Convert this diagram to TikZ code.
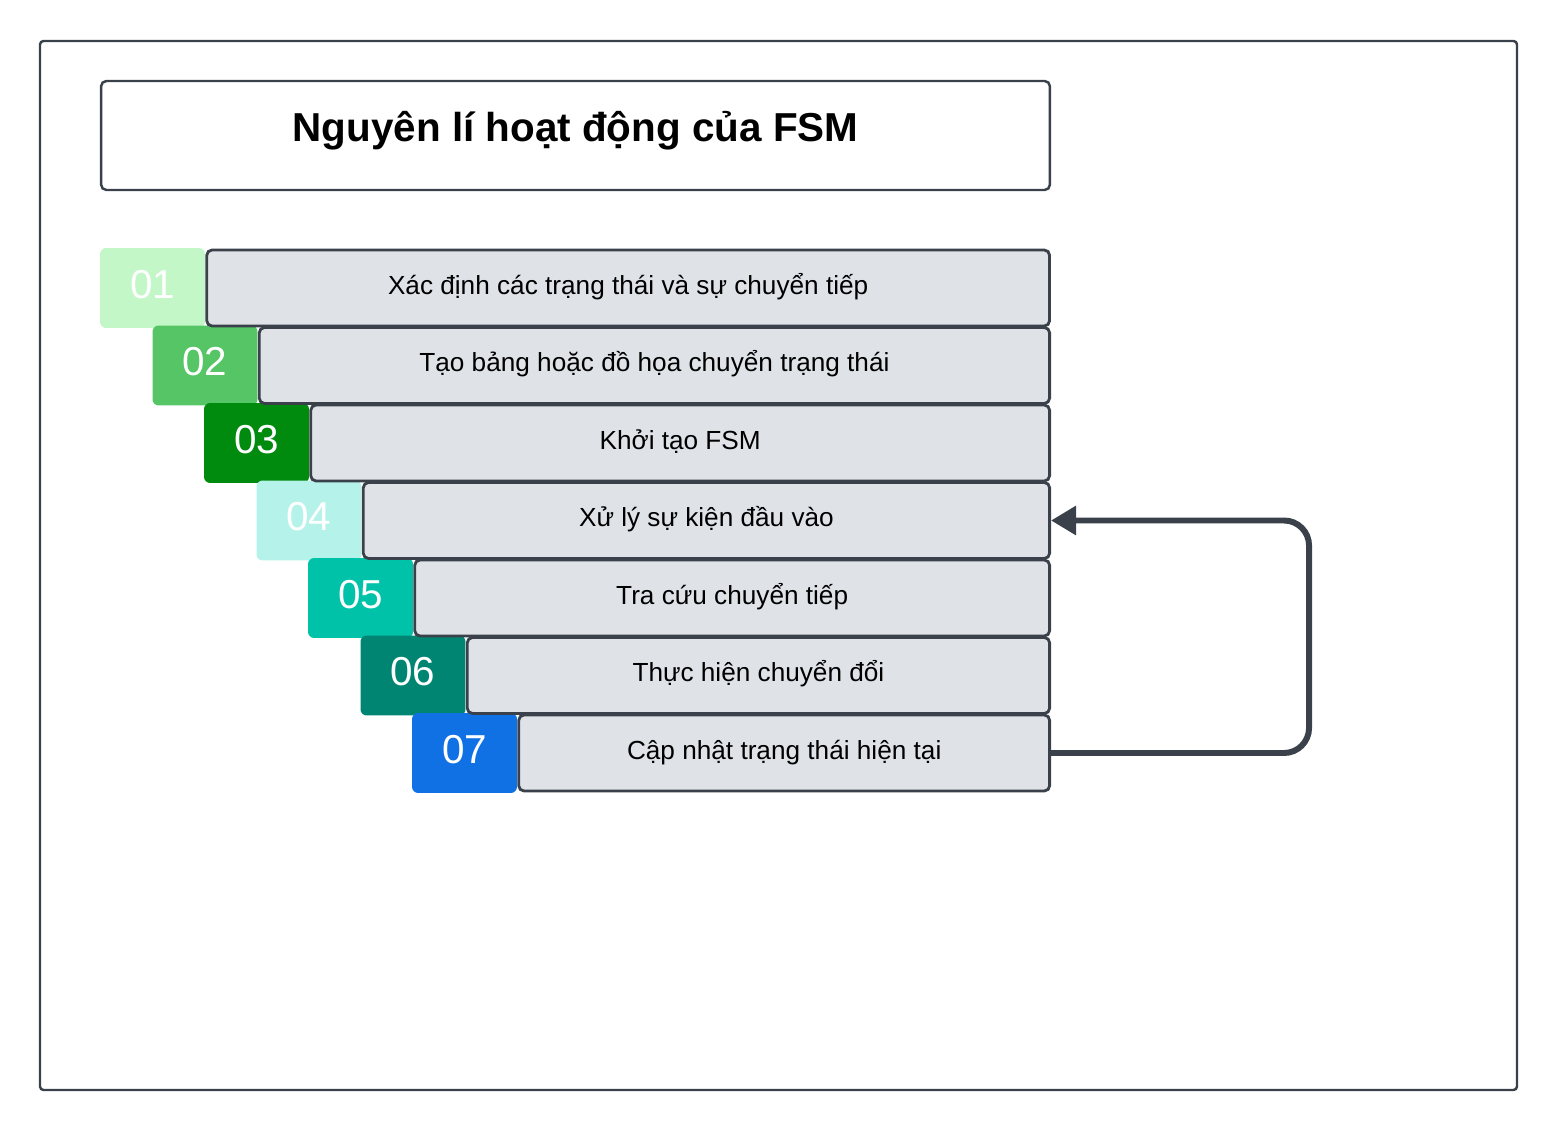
\documentclass[tikz,border=0pt]{standalone}
\usepackage{fontspec}
\setmainfont{Liberation Sans}
\usetikzlibrary{arrows.meta, positioning}
\definecolor{FrameGray}{HTML}{3A414A}
\definecolor{BarFill}{HTML}{DFE3E8}
\definecolor{StepOne}{HTML}{C3F7C8}
\definecolor{StepTwo}{HTML}{55C566}
\definecolor{StepThree}{HTML}{008A0E}
\definecolor{StepFour}{HTML}{B5F3EA}
\definecolor{StepFive}{HTML}{00C2A8}
\definecolor{StepSix}{HTML}{008573}
\definecolor{StepSeven}{HTML}{1071E5}
\tikzset{
  titlenode/.style={draw=FrameGray, fill=white, rectangle, rounded corners=3pt,
                    line width=1.4pt, minimum width=18.98cm, minimum height=2.18cm,
                    text height=0.5cm, text depth=0.25cm,
                    font=\fontsize{23}{27}\selectfont\bfseries},
  numnode/.style={rectangle, rounded corners=3.5pt, inner sep=0pt,
                  minimum width=2.1cm, minimum height=1.6cm, text=white,
                  text height=0.6cm, text depth=0.18cm,
                  font=\fontsize{23}{27}\selectfont},
  barnode/.style={draw=FrameGray, fill=BarFill, rectangle, rounded corners=3pt,
                  line width=1.6pt, inner sep=0pt, minimum height=1.52cm,
                  text height=0.4cm, text depth=0.14cm,
                  font=\fontsize{14.9}{18}\selectfont},
  looparrow/.style={-{Triangle[length=0.5cm, width=0.56cm]}, line width=3.4pt,
                    draw=FrameGray, rounded corners=0.5cm}
}

\begin{document}
\begin{tikzpicture}[x=0.02cm, y=-0.02cm]
  \useasboundingbox (0,0) rectangle (1559,1131);
  \draw[FrameGray, line width=1.4pt, rounded corners=2pt] (40,41) rectangle (1517,1090);

  \node[titlenode] (title) at (575.5,135.5) {Nguyên lí hoạt động của FSM};

  % step numbers
  \node[numnode, fill=StepOne]   (num1) at (152.5,288) {01};
  \node[numnode, fill=StepTwo]   (num2) at (205,365.5) {02};
  \node[numnode, fill=StepThree] (num3) at (256.5,443) {03};
  \node[numnode, fill=StepFour]  (num4) at (309,520.5) {04};
  \node[numnode, fill=StepFive]  (num5) at (360.5,598) {05};
  \node[numnode, fill=StepSix]   (num6) at (413,675.5) {06};
  \node[numnode, fill=StepSeven] (num7) at (464.5,753) {07};

  % step bars
  \node[barnode, minimum width=16.86cm, right=0pt of num1] (bar1) {Xác định các trạng thái và sự chuyển tiếp};
  \node[barnode, minimum width=15.81cm, right=0pt of num2] (bar2) {Tạo bảng hoặc đồ họa chuyển trạng thái};
  \node[barnode, minimum width=14.78cm, right=0pt of num3] (bar3) {Khởi tạo FSM};
  \node[barnode, minimum width=13.73cm, right=0pt of num4] (bar4) {Xử lý sự kiện đầu vào};
  \node[barnode, minimum width=12.7cm,  right=0pt of num5] (bar5) {Tra cứu chuyển tiếp};
  \node[barnode, minimum width=11.65cm, right=0pt of num6] (bar6) {Thực hiện chuyển đổi};
  \node[barnode, minimum width=10.62cm, right=0pt of num7] (bar7) {Cập nhật trạng thái hiện tại};

  \draw[looparrow] (bar7.east) -- ++(258,0) |- (bar4.east);
\end{tikzpicture}
\end{document}
